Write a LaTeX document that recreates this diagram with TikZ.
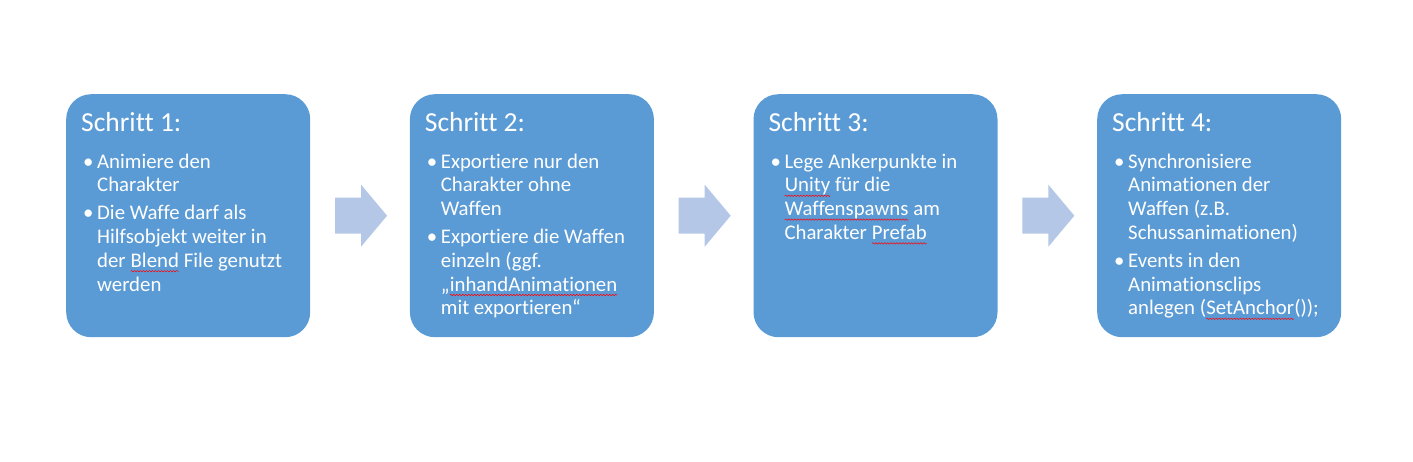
\documentclass[tikz,border=0pt]{standalone}
\usepackage{fontspec}
\setmainfont{Carlito}[Ligatures=NoCommon]
\usetikzlibrary{calc,decorations.pathmorphing}
\definecolor{boxblue}{HTML}{5B9BD5}
\definecolor{arrowblue}{HTML}{B4C7E7}
\newcommand\bu{\makebox[14pt][l]{•}}
\newcommand\sqw[2]{\tikz[baseline=(#1.base)]{\node[inner sep=0pt,outer sep=0pt,draw=none,fill=none,text=white,anchor=base] (#1) {#2};\draw[red,line width=0.5pt,decorate,decoration={snake,amplitude=0.7pt,segment length=3pt}] ([yshift=-4pt]#1.base west) -- ([yshift=-4pt]#1.base east);}}
\tikzset{
  stepbox/.style={rectangle, rounded corners=25pt, fill=boxblue, minimum width=244pt, minimum height=243pt, inner sep=0pt, anchor=north west},
  ttl/.style={anchor=base west, inner sep=0pt, text=white, font=\fontsize{27.5}{33}\selectfont},
  body/.style={anchor=base west, inner sep=0pt, text=white, font=\fontsize{20.8}{23.8}\selectfont, align=left},
  blockarrow/.style={fill=arrowblue}
}
\begin{document}
\begin{tikzpicture}[x=1pt,y=-1pt]
\useasboundingbox (0,0) rectangle (1413,461);
\node[stepbox] (b1) at (66,94) {};
\node[stepbox] (b2) at (409.7,94) {};
\node[stepbox] (b3) at (753.3,94) {};
\node[stepbox] (b4) at (1097,94) {};
\foreach \i in {1,2,3,4}{
  \node[ttl] (t\i) at ([xshift=15pt,yshift=-37pt]b\i.north west) {Schritt \i:};
}
\node[body] (c1) at ([xshift=17pt,yshift=-74pt]b1.north west) {\begin{tabular}[t]{@{}l@{}l@{}}
\bu & Animiere den\\
 & Charakter\\[4pt]
\bu & Die Waffe darf als\\
 & Hilfsobjekt weiter in\\
 & der \sqw{w1}{Blend} File genutzt\\
 & werden
\end{tabular}};
\node[body] (c2) at ([xshift=17pt,yshift=-74pt]b2.north west) {\begin{tabular}[t]{@{}l@{}l@{}}
\bu & Exportiere nur den\\
 & Charakter ohne\\
 & Waffen\\[4pt]
\bu & Exportiere die Waffen\\
 & einzeln (ggf.\\
 & „\sqw{w2}{inhandAnimationen}\\
 & mit exportieren“
\end{tabular}};
\node[body] (c3) at ([xshift=17pt,yshift=-74pt]b3.north west) {\begin{tabular}[t]{@{}l@{}l@{}}
\bu & Lege Ankerpunkte in\\
 & \sqw{w3}{Unity} für die\\
 & \sqw{w4}{Waffenspawns} am\\
 & Charakter \sqw{w5}{Prefab}
\end{tabular}};
\node[body] (c4) at ([xshift=17pt,yshift=-74pt]b4.north west) {\begin{tabular}[t]{@{}l@{}l@{}}
\bu & Synchronisiere\\
 & Animationen der\\
 & Waffen (z.B.\\
 & Schussanimationen)\\[4pt]
\bu & Events in den\\
 & Animationsclips\\
 & anlegen (\sqw{w6}{SetAnchor}());
\end{tabular}};
\foreach \a/\b in {b1/b2,b2/b3,b3/b4}{
  \fill[blockarrow] ($(\a.east)!0.5!(\b.west)$) ++(-25,-18) -- ++(26,0) -- ++(0,-13) -- ++(26,31) -- ++(-26,31) -- ++(0,-13) -- ++(-26,0) -- cycle;
}
\end{tikzpicture}
\end{document}
